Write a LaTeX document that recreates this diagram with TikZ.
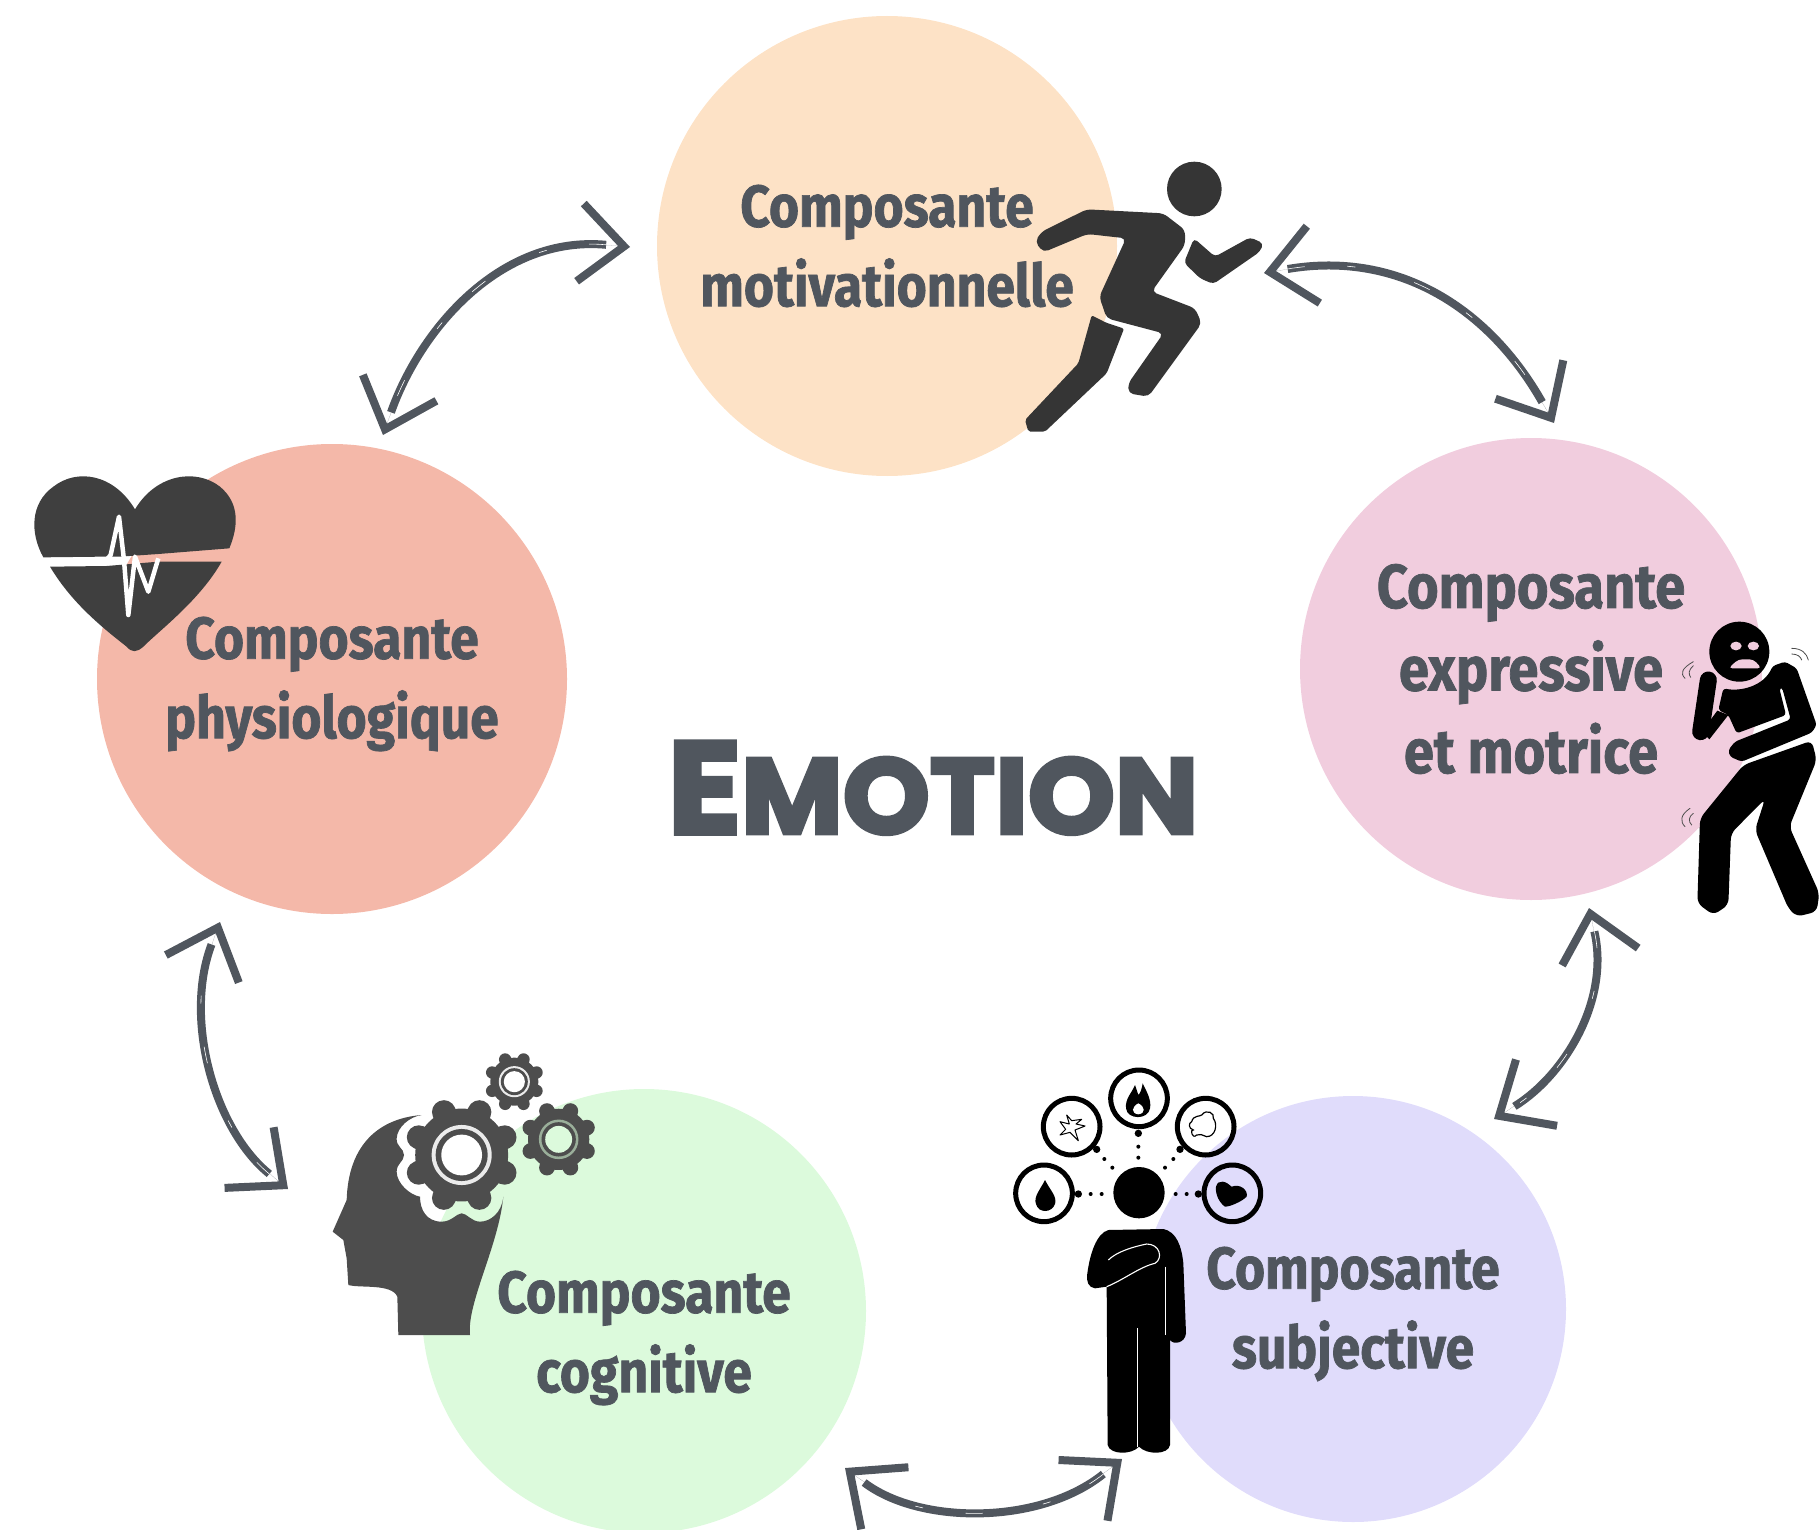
\documentclass[tikz,border=0pt]{standalone}
\usepackage{fontspec}
\usepackage{xcolor}
\usepackage{tikz}
\usetikzlibrary{arrows.meta, calc}
\newfontfamily\labelfont[FakeStretch=0.875,FakeBold=1.2]{Fira Sans}
\newfontfamily\titlefont[FakeStretch=1.035,FakeBold=3.5]{Poppins}
\definecolor{inkslate}{HTML}{50565E}
\definecolor{motpeach}{HTML}{FDE2C6}
\definecolor{physalmon}{HTML}{F4B8A9}
\definecolor{expink}{HTML}{F1CDDE}
\definecolor{sublilac}{HTML}{E0DCFB}
\definecolor{cogreen}{HTML}{DCFADC}
\definecolor{runnergrey}{HTML}{353535}
\definecolor{heartgrey}{HTML}{3F3F3F}
\definecolor{headgrey}{HTML}{4D4D4D}
\tikzset{
  complabel/.style={align=center, text=inkslate,
    font=\labelfont\bfseries\fontsize{59}{79.5}\selectfont},
  compcircle/.style={circle, inner sep=0pt, minimum size=#1, complabel},
  twoway/.style={line width=.01pt, draw=inkslate,
    {Straight Barb[length=44pt,width=78pt,line width=8pt]}-{Straight Barb[length=44pt,width=78pt,line width=8pt]},
    preaction={draw=inkslate, line width=8pt, arrows=-, shorten >=24pt, shorten <=24pt,
      postaction={draw=white, line width=.6pt, dash pattern=on 17pt off 43pt on 8pt off 61pt}}},
  bubble/.style={line width=5pt, draw=black},
  shake/.style={line width=.8pt, draw=black!70, line cap=round},
}
% cog: centre x, centre y, radius, ring colour, hole colour
\newcommand{\cogicon}[5]{%
  \begin{scope}[shift={(#1,#2)}]
    \fill[headgrey] (0,0) circle (#3*0.82);
    \foreach \toothangle in {22.5,67.5,...,360}
      \draw[headgrey, line width=#3*0.14pt, line cap=round]
        (\toothangle:#3*0.6) -- (\toothangle:#3*0.82);
    \fill[#4] (0,0) circle (#3*0.53);
    \fill[headgrey] (0,0) circle (#3*0.46);
    \fill[#5] (0,0) circle (#3*0.36);
  \end{scope}}
\begin{document}
\begin{tikzpicture}[x=1pt,y=-1pt]
    \useasboundingbox (0,0) rectangle (1819,1530);

    % Components
    \node[compcircle=460pt, fill=motpeach] (mot) at (887,246)
      {Composante\\motivationnelle};
    \node[compcircle=470pt, fill=physalmon] (phy) at (332,679) {};
    \node[complabel] (phylabel) at (332,684) {Composante\\physiologique};
    \node[compcircle=462pt, fill=expink,
      font=\labelfont\bfseries\fontsize{62}{82.5}\selectfont] (exp) at (1531,669)
      {Composante\\expressive\\et motrice};
    \node[compcircle=426pt, fill=sublilac] (sub) at (1353,1309) {};
    \node[complabel] (sublabel) at (1353,1314) {Composante\\subjective};
    \node[compcircle=444pt, fill=cogreen] (cog) at (644,1311) {};
    \node[complabel] (coglabel) at (644,1338) {Composante\\cognitive};

    % Title
    \node[font=\titlefont\bfseries, text=inkslate, inner sep=0pt] (title) at (933,788)
      {\fontsize{131}{131}\selectfont E\fontsize{107}{131}\selectfont MOTION};

    % Arrow ends
    \coordinate (motwest) at ([shift={(-257,1)}]mot.center);
    \coordinate (phytop) at ([shift={(51,-244)}]phy.center);
    \coordinate (moteast) at ([shift={(377,27)}]mot.center);
    \coordinate (exptop) at ([shift={(23,-246)}]exp.center);
    \coordinate (expbottom) at ([shift={(58,239)}]exp.center);
    \coordinate (subtop) at ([shift={(141,-190)}]sub.center);
    \coordinate (subwest) at ([shift={(-231,150)}]sub.center);
    \coordinate (cogeast) at ([shift={(201,157)}]cog.center);
    \coordinate (cogwest) at ([shift={(-356,-122)}]cog.center);
    \coordinate (phybottom) at ([shift={(-112,243)}]phy.center);

    % Arrows
    \draw[twoway] (motwest) .. controls (500,235) and (420,330) .. (phytop);
    \draw[twoway] (moteast) .. controls (1400,250) and (1490,310) .. (exptop);
    \draw[twoway] (expbottom) .. controls (1610,1000) and (1565,1075) .. (subtop);
    \draw[twoway] (subwest) .. controls (1040,1525) and (920,1525) .. (cogeast);
    \draw[twoway] (cogwest) .. controls (215,1130) and (183,1020) .. (phybottom);

    % Runner
    \begin{scope}[shift={(1000,130)},scale=1/3]
      \fill[runnergrey] (583,177) circle (82);
      \fill[runnergrey, rounded corners=5pt] (105,335) -- (125,305) -- (260,238) -- (490,250)
        -- (555,300) -- (555,345) -- (455,485) -- (585,535) -- (605,580) -- (445,800)
        -- (385,790) -- (385,760) -- (490,610) -- (320,565) -- (298,500) -- (378,325)
        -- (262,312) -- (130,367) -- cycle;
      \fill[runnergrey, rounded corners=4pt] (582,325) -- (645,380) -- (750,322) -- (790,340)
        -- (780,365) -- (640,462) -- (600,445) -- (552,398) -- cycle;
      \fill[runnergrey, rounded corners=2pt] (275,556) -- (318,578) -- (372,596) -- (320,730)
        -- (135,905) -- (85,905) -- (75,870) -- (235,700) -- cycle;
    \end{scope}

    % Heart
    \begin{scope}[shift={(20,460)},scale=1/3]
      \fill[heartgrey] (70,292) .. controls (30,220) and (30,130) .. (100,80)
        .. controls (170,25) and (280,40) .. (345,148)
        .. controls (410,40) and (530,25) .. (600,80)
        .. controls (660,130) and (655,200) .. (628,265)
        -- (415,282) -- (300,290) -- (245,290) -- cycle;
      \fill[heartgrey] (90,320) -- (260,318) -- (415,305) -- (605,305)
        .. controls (540,420) and (420,510) .. (370,560)
        .. controls (350,578) and (335,578) .. (320,560)
        .. controls (230,490) and (150,420) .. (90,320) -- cycle;
      \draw[white, line width=4.5pt, line join=round] (255,305) -- (272,285) -- (297,170) -- (312,300)
        -- (325,465) -- (345,290) -- (385,395) -- (415,295);
    \end{scope}

    % Shaking figure
    \begin{scope}[shift={(1660,600)},scale=1/3]
      \fill[black] (238,155) circle (90);
      \fill[expink] (228,138) ellipse (17 and 13);
      \fill[expink] (280,138) ellipse (17 and 13);
      \fill[expink, rounded corners=4pt] (205,205) -- (235,178) -- (280,178) -- (305,205) -- cycle;
      \draw[black, line width=17pt, line cap=round] (145,240) -- (122,395);
      \fill[black] (172,332) -- (205,345) -- (148,418) -- (125,395) -- cycle;
      \fill[black, rounded corners=3pt] (190,265) .. controls (240,275) and (310,260) .. (338,198)
        -- (375,185) -- (410,205) -- (470,375) -- (455,398) -- (245,485) -- (210,470)
        -- (205,450) -- (225,425) -- (392,358) -- (366,262) -- (358,265) -- (378,345)
        -- (230,400) -- (205,345) -- (175,330) -- cycle;
      \fill[black, rounded corners=6pt] (250,495) -- (455,422) -- (470,480) -- (388,680)
        -- (478,880) -- (470,935) -- (410,950) -- (385,925) -- (285,690) -- (315,597)
        -- (213,700) -- (205,915) -- (160,945) -- (112,910) -- (120,655) -- cycle;
      \draw[shake] (100,185) .. controls (65,205) and (60,220) .. (75,235);
      \draw[shake] (100,197) .. controls (85,210) and (85,222) .. (92,232);
      \draw[shake] (395,145) .. controls (425,145) and (440,160) .. (445,180);
      \draw[shake] (395,162) .. controls (412,162) and (422,170) .. (425,180);
      \draw[shake] (90,625) .. controls (60,645) and (60,665) .. (75,680);
      \draw[shake] (100,640) .. controls (85,650) and (85,665) .. (95,675);
    \end{scope}

    % Head with cogs
    \begin{scope}[shift={(320,1040)},scale=1/3]
      \fill[headgrey] (305,225) .. controls (180,235) and (85,310) .. (80,480)
        -- (38,575) -- (70,600) -- (80,655) -- (85,735)
        .. controls (120,745) and (215,730) .. (232,770) -- (235,885) -- (450,885)
        .. controls (440,790) and (535,620) .. (550,470)
        .. controls (545,520) and (510,545) .. (480,545)
        .. controls (455,545) and (440,520) .. (425,520)
        .. controls (410,520) and (395,545) .. (365,545)
        .. controls (320,545) and (300,510) .. (300,470)
        .. controls (270,465) and (230,430) .. (230,395)
        .. controls (230,370) and (252,365) .. (252,345)
        .. controls (252,325) and (228,320) .. (230,295)
        .. controls (232,260) and (270,230) .. (305,225) -- cycle;
      \cogicon{425}{345}{170}{black!8}{white}
      \cogicon{583}{125}{88}{black!8}{white}
      \cogicon{716}{298}{112}{cogreen!70!black}{cogreen}
    \end{scope}

    % Standing figure with feelings
    \begin{scope}[shift={(1000,1050)},scale=1/3]
      \fill[black] (417,428) circle (77);
      \fill[black] (325,540) -- (490,537) .. controls (530,545) and (545,590) .. (550,640)
        -- (558,850) .. controls (555,880) and (520,885) .. (510,870) -- (510,1185)
        .. controls (505,1215) and (440,1215) .. (417,1190)
        .. controls (395,1215) and (330,1215) .. (323,1185) -- (320,710) -- (285,715)
        .. controls (265,712) and (258,695) .. (262,670)
        .. controls (270,610) and (290,550) .. (325,540) -- cycle;
      \draw[white, line width=1.1pt] (413,835) -- (413,1190);
      \draw[white, line width=1.1pt] (497,650) -- (497,855);
      \draw[white, line width=1.1pt] (320,710) .. controls (370,690) and (420,650) .. (465,640)
        .. controls (490,625) and (480,582) .. (440,582)
        .. controls (400,590) and (350,605) .. (325,630);
      \foreach \bubblex/\bubbley in {132/430, 215/230, 417/145, 617/230, 697/430}
        \draw[bubble] (\bubblex,\bubbley) circle (85);
      \foreach \dotx/\doty in {272/432, 305/432, 313/327, 337/353, 415/290, 415/323,
                               520/327, 495/353, 527/432, 560/432}
        \fill[black] (\dotx,\doty) circle (6);
      \foreach \knobx/\knoby in {235/432, 290/298, 415/250, 540/298, 595/432}
        \fill[black] (\knobx,\knoby) circle (11);
      % Drop
      \fill[black] (135,390) .. controls (120,420) and (100,440) .. (108,462)
        .. controls (115,490) and (155,490) .. (165,462) .. controls (172,440) and (150,420) .. (135,390) -- cycle;
      % Heart
      \fill[black] (648,410) .. controls (655,385) and (680,395) .. (695,410)
        .. controls (720,400) and (745,420) .. (740,440) .. controls (725,455) and (690,470) .. (675,470)
        .. controls (660,460) and (645,435) .. (648,410) -- cycle;
      % Flame
      \fill[black] (405,105) .. controls (395,130) and (375,145) .. (378,175)
        .. controls (382,210) and (445,210) .. (450,175) .. controls (455,150) and (440,125) .. (428,100)
        .. controls (425,120) and (420,130) .. (415,135) -- cycle;
      \fill[white] (415,160) .. controls (395,170) and (392,190) .. (415,193)
        .. controls (438,190) and (435,170) .. (415,160) -- cycle;
      % Burst
      \draw[black, line width=1pt, line join=round] (200,195) -- (208,222) -- (180,215) -- (197,238)
        -- (180,255) -- (210,247) -- (235,272) -- (225,240) -- (255,228) -- (228,222) -- (245,208) -- (215,212) -- cycle;
      % Cloud
      \draw[black, line width=1.2pt] (575,215) .. controls (580,195) and (600,200) .. (605,195)
        .. controls (620,175) and (645,190) .. (640,205) .. controls (655,225) and (645,260) .. (620,260)
        .. controls (605,255) and (600,250) .. (590,255) .. controls (575,270) and (570,235) .. (580,240)
        .. controls (565,235) and (565,220) .. (575,215) -- cycle;
    \end{scope}
\end{tikzpicture}
\end{document}
